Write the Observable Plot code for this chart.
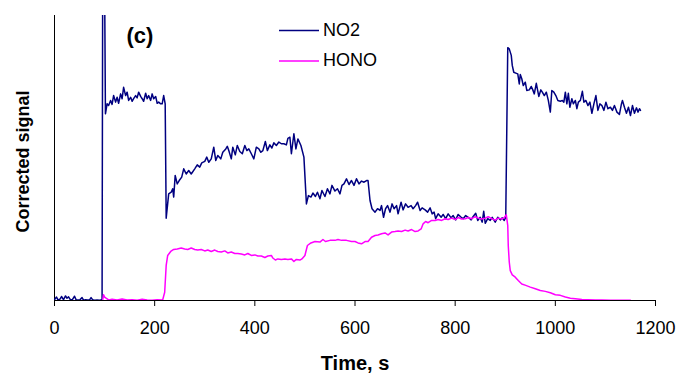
<!DOCTYPE html>
<html>
<head>
<meta charset="utf-8">
<script src="https://cdn.jsdelivr.net/npm/d3@7"></script>
<script src="https://cdn.jsdelivr.net/npm/@observablehq/plot@0.6"></script>
<style>
  html, body { margin: 0; padding: 0; background: #fff; }
  svg { display: block; }
</style>
</head>
<body>
<div id="chart"></div>
<script>
// ---- data (arbitrary signal units 0–100) ----
const seriesNames = ["NO2", "HONO"];
const seriesColors = ["#000080", "#ff00ff"];
const xTicks = [0, 200, 400, 600, 800, 1000, 1200];

const no2Time = [
  0,4,7,11,14,18,22,25,28,32,36,40,43,47,51,55,58,62,66,70,73,76,80,85,90,95,
  96.5,99,101.7,
  105,108,112,115,118,122,125,128,132,135,138,142,145,148,152,155,158,162,165,168,172,175,178,182,185,188,192,195,198,202,205,208,212,215,218,221,
  223,228,233,236,238,241,245,249,254,258,263,268,273,280,285,290,294,300,304,308,313,318,322,326,332,336,342,345,348,353,356,361,365,370,375,380,384,388,393,398,403,408,412,416,421,425,430,434,438,443,448,453,458,463,466,470,473,478,482,486,492,498,
  503,507,512,516,521,525,530,534,540,545,550,554,560,565,570,574,578,583,588,593,598,603,608,613,618,623,626,
  630,634,640,645,650,653,657,661,665,670,674,678,683,686,692,696,701,706,712,716,721,725,730,734,740,745,750,754,758,761,766,772,776,781,786,792,796,801,806,812,816,821,826,832,836,841,845,850,854,857,860,865,870,874,880,885,890,894,898,901,
  905,908,912,914,917,921,925,928,930,933,936,940,943,948,952,955,958,962,967,971,974,978,982,986,990,993,997,1001,1005,1010,1014,1017,1020,1023,1026,1029,1033,1036,1040,1043,1046,1050,1054,1057,1061,1065,1069,1073,1077,1081,1085,1089,1093,1097,1101,1105,1110,1114,1118,1123,1128,1132,1134,1138,1142,1146,1150,1154,1158,1162,1165,1168,1170
];
const no2Value = [
  0.3,1.2,0.2,0.5,1.4,0.3,1.6,0.8,1.3,0.2,0.4,1.5,0.3,0.2,0.3,1.0,0.1,0.3,0.2,0.2,1.0,0.3,0.1,0.2,0.1,0.3,
  140,140,65.5,
  69.0,68.4,70.2,68.8,71.9,69.6,71.3,69.2,72.5,70.8,74.8,71.9,73.1,70.2,71.3,69.9,70.8,71.9,71.1,73.1,71.6,70.8,69.9,72.7,70.8,71.9,70.2,72.5,70.8,71.6,69.2,69.6,69.0,69.0,71.9,69.0,
  28.9,37.4,38.0,39.2,36.3,43.9,40.9,42.1,43.3,46.2,44.4,45.6,44.4,46.2,47.6,46.8,48.3,48.8,50.3,48.5,49.7,53.8,49.1,50.9,49.7,52.0,53.2,54.1,52.6,49.7,53.8,51.1,54.4,52.3,51.5,54.4,52.6,53.2,51.5,49.7,53.8,53.2,52.0,52.6,55.8,52.6,54.6,53.5,55.3,54.4,55.6,55.0,55.0,54.6,56.9,57.3,51.5,58.5,53.2,56.7,54.4,50.3,
  33.9,36.8,36.3,37.7,36.5,38.0,35.7,38.6,36.5,39.2,37.4,40.4,38.4,39.2,37.4,40.4,40.9,42.7,40.7,42.1,40.4,42.7,40.9,41.9,41.5,42.1,42.1,
  35.1,32.2,31.0,32.2,31.6,33.3,29.2,32.2,33.3,31.0,33.9,32.2,33.3,30.4,34.5,31.8,33.9,32.7,33.3,32.2,33.3,34.5,31.6,32.5,31.8,31.0,32.5,30.4,31.0,28.7,30.4,29.2,30.2,28.7,30.4,29.0,29.8,28.3,30.2,29.2,28.7,29.8,29.2,28.3,29.5,30.6,28.1,29.2,27.5,31.3,27.1,28.7,28.1,29.2,27.5,29.2,28.3,29.0,28.1,29.2,
  88.7,88.3,86.0,82.5,80.1,79.8,79.5,76.0,79.3,77.8,75.4,76.6,73.7,73.9,75.1,73.9,72.5,76.2,71.6,73.9,73.1,71.9,73.1,70.2,66.1,73.7,73.1,71.9,70.2,69.9,70.2,69.6,73.1,69.0,72.7,67.8,70.8,69.0,70.2,67.3,69.6,70.2,73.4,69.6,70.2,68.4,69.6,65.7,69.0,71.9,66.7,69.0,68.4,66.7,69.6,67.3,67.8,66.7,68.4,66.1,65.3,69.0,70.2,67.8,65.7,67.8,64.9,68.4,65.7,67.6,66.1,67.3,66.7
];

const honoTime = [
  96,98,100,103,108,115,125,135,145,155,165,175,185,195,205,216,
  220,223,226,232,238,245,253,260,266,273,280,286,293,300,306,313,320,326,333,340,346,353,360,366,373,380,386,393,400,406,413,420,426,433,436,441,446,453,460,466,473,478,483,490,494,
  500,505,512,520,530,536,541,550,560,566,573,583,593,600,606,613,620,626,
  633,640,646,653,660,666,673,680,686,693,700,706,713,720,726,732,
  736,741,746,753,760,766,773,780,786,793,800,806,813,820,826,833,840,846,853,860,866,873,880,886,893,898,902,
  905,906,908,910,914,920,926,933,941,950,960,970,980,990,1000,1010,1020,1030,1040,1053,1066,1080,1093,1110,1130,1150
];
const honoValue = [
  0,2.0,1.2,0.8,0.2,0.4,0.2,0.5,0.2,0.3,0.1,0.4,0.2,0.1,0.3,0.2,
  2.9,12.3,15.8,17.2,17.9,18.1,18.4,18.1,17.9,18.4,17.9,17.7,17.9,17.4,17.7,17.2,17.7,17.2,17.0,17.4,16.7,17.0,16.5,16.5,16.3,16.0,16.5,15.8,16.0,15.6,15.6,15.1,15.6,15.8,14.9,14.2,14.6,14.4,14.6,14.4,14.6,13.7,14.4,14.2,14.6,
  15.8,19.3,20.2,20.7,20.5,21.4,20.7,21.1,21.1,21.4,21.1,21.1,20.7,20.7,20.2,19.9,20.7,20.7,
  22.2,22.8,23.0,23.4,23.7,23.0,24.0,24.2,24.4,24.2,24.7,24.4,24.9,24.2,24.4,25.1,
  26.9,27.7,27.3,28.1,28.1,28.4,28.1,28.7,28.4,28.9,28.4,29.1,28.6,28.7,29.1,28.7,29.4,28.9,28.6,28.9,29.4,28.7,28.2,28.9,28.6,29.1,30.1,
  26.3,19.3,13.5,10.5,9.0,8.2,7.0,5.8,5.3,4.7,4.1,3.5,3.2,2.7,2.0,1.8,1.2,0.8,0.6,0.35,0.3,0.2,0.2,0.1,0.1,0.1
];

// ---- tables for the library ----
const no2 = no2Time.map((t, i) => ({t, v: no2Value[i]}));
const hono = honoTime.map((t, i) => ({t, v: honoValue[i]}));

const font = "'Liberation Sans', Arial, Helvetica, sans-serif";

const plot = Plot.plot({
  width: 679,
  height: 374,
  marginLeft: 54,
  marginRight: 24,
  marginTop: 15,
  marginBottom: 74,
  x: {domain: [0, 1200]},
  y: {domain: [0, 100], axis: null},
  style: {fontFamily: font, background: "#fff", color: "#000", overflow: "visible"},
  marks: [
    Plot.axisX({ticks: xTicks, tickSize: 6, tickPadding: 15, fontSize: 18, tickFormat: d => String(d), label: null, stroke: "#000"}),
    Plot.ruleX([0], {stroke: "#000", strokeWidth: 1}),
    Plot.ruleY([0], {stroke: "#000", strokeWidth: 1}),
    Plot.line(no2, {x: "t", y: "v", stroke: seriesColors[0], strokeWidth: 1.5, clip: true}),
    Plot.line(hono, {x: "t", y: "v", stroke: seriesColors[1], strokeWidth: 1.5, clip: true}),
    Plot.text(["Time, s"], {frameAnchor: "bottom", dy: 69, lineAnchor: "bottom", textAnchor: "middle", fontWeight: "bold", fontSize: 20, fill: "#000"}),
    Plot.text(["Corrected signal"], {frameAnchor: "left", rotate: -90, dx: -26, dy: 3.5, lineAnchor: "bottom", textAnchor: "middle", fontWeight: "bold", fontSize: 18, fill: "#000"}),
    Plot.text(["(c)"], {frameAnchor: "top-left", dx: 72, dy: 27, lineAnchor: "bottom", textAnchor: "start", fontWeight: "bold", fontSize: 22, fill: "#000"})
  ]
});

// legend inside the plot area
const svg = d3.select(plot);
const lg = svg.append("g")
  .attr("font-family", font)
  .attr("font-size", 18)
  .attr("text-anchor", "start");
const entries = seriesNames.map((name, i) => ({name, color: seriesColors[i], i}));
lg.selectAll("line").data(entries).join("line")
  .attr("x1", 279).attr("x2", 319)
  .attr("y1", d => 30.5 + d.i * 30.5).attr("y2", d => 30.5 + d.i * 30.5)
  .attr("stroke", d => d.color).attr("stroke-width", 1.5);
lg.selectAll("text").data(entries).join("text")
  .attr("x", 323).attr("y", d => 35.5 + d.i * 30.5)
  .attr("text-anchor", "start")
  .attr("fill", "#000")
  .text(d => d.name);

document.getElementById("chart").appendChild(plot);
</script>
</body>
</html>
